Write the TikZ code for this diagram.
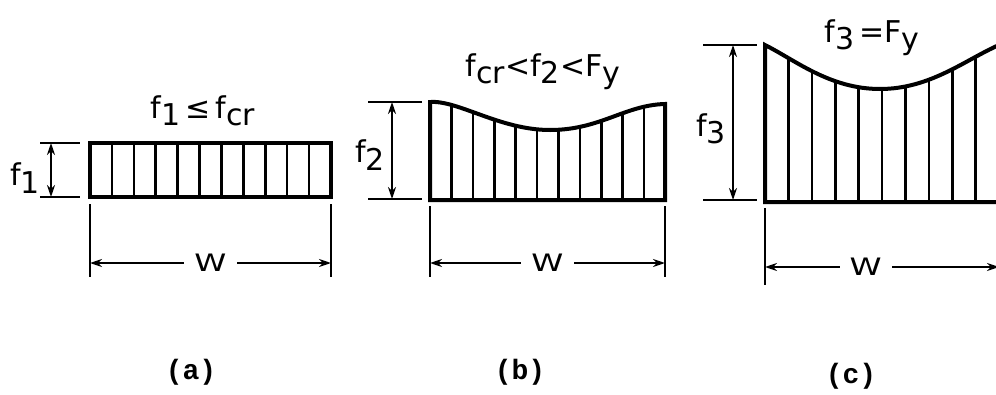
\documentclass[tikz,border=0pt]{standalone}
\usepackage{fontspec}
\setmainfont{DejaVu Sans}
\newfontfamily\capfont{Liberation Mono}
\usetikzlibrary{arrows.meta,positioning}

% lowered full-size subscript, as in the hand lettering
\newcommand{\lo}[1]{\raisebox{-0.45ex}{#1}}

\begin{document}
\begin{tikzpicture}[
    x=1pt, y=-1pt,
    box/.style={line width=4pt},
    bar/.style={line width=2.6pt},
    dim/.style={line width=2.8pt},
    arr/.style={{Stealth[length=12pt,width=8pt]}-{Stealth[length=12pt,width=8pt]}, line width=2.8pt},
    lbl/.style={font=\fontsize{30}{32}\selectfont, inner sep=1pt},
    wlbl/.style={font=\fontsize{24}{26}\selectfont, fill=white, inner ysep=1pt, inner xsep=10pt},
    caplbl/.style={font=\capfont\bfseries\fontsize{28}{30}\selectfont}
]
\clip (0,0) rectangle (996,394);

% (a) uniform stress
\coordinate (a-tl) at (90,143);
\coordinate (a-br) at (331,197);
\foreach \i in {1,...,10}
    \draw[bar] (90+\i*21.9,143) -- (90+\i*21.9,197);
\draw[box] (a-tl) rectangle (a-br);

\coordinate (a-up) at (51,143);
\coordinate (a-dn) at (51,197);
\draw[dim] (40,143) -- (80,143);
\draw[dim] (40,197) -- (80,197);
\draw[arr] (a-up) -- (a-dn);
\node[lbl] (a-f) at (25,178) {f\lo{1}};
\node[lbl] (a-t) at (203,111) {f\lo{1}\,≤\,f\lo{cr}};

\coordinate (a-wl) at (90,263);
\coordinate (a-wr) at (331,263);
\draw[dim] (90,204) -- (90,277);
\draw[dim] (331,204) -- (331,277);
\draw[arr] (a-wl) -- node[wlbl] (a-w) {\scalebox{1.35}[1]{W}} (a-wr);
\node[caplbl] (a-cap) at (191,372) {(a)};

% (b) stress between f_cr and F_y
\begin{scope}
\clip (430,200) -- (430,102) .. controls (458,100) and (500,130) .. (550,130)
    .. controls (600,130) and (625,105) .. (665,104) -- (665,200) -- cycle;
\foreach \i in {1,...,10}
    \draw[bar] (430+\i*21.4,90) -- (430+\i*21.4,205);
\end{scope}
\draw[box] (430,200) -- (430,102) .. controls (458,100) and (500,130) .. (550,130)
    .. controls (600,130) and (625,105) .. (665,104) -- (665,200) -- cycle;

\coordinate (b-up) at (392,102);
\coordinate (b-dn) at (392,199);
\draw[dim] (368,102) -- (422,102);
\draw[dim] (368,199) -- (422,199);
\draw[arr] (b-up) -- (b-dn);
\node[lbl] (b-f) at (370,155) {f\lo{2}};
\node[lbl] (b-t) at (543,72) {f\lo{cr}<f\lo{2}<F\lo{y}};

\coordinate (b-wl) at (430,263);
\coordinate (b-wr) at (665,263);
\draw[dim] (430,206) -- (430,277);
\draw[dim] (665,206) -- (665,277);
\draw[arr] (b-wl) -- node[wlbl] (b-w) {\scalebox{1.35}[1]{W}} (b-wr);
\node[caplbl] (b-cap) at (520,372) {(b)};

% (c) stress at yield
\begin{scope}
\clip (765,202) -- (765,45) .. controls (795,60) and (830,89) .. (880,89)
    .. controls (930,89) and (965,60) .. (999,45) -- (999,202) -- cycle;
\foreach \i in {1,...,9}
    \draw[bar] (765+\i*23.4,30) -- (765+\i*23.4,210);
\end{scope}
\draw[box] (765,202) -- (765,45) .. controls (795,60) and (830,89) .. (880,89)
    .. controls (930,89) and (965,60) .. (999,45) -- (999,202) -- cycle;

\coordinate (c-up) at (733,45);
\coordinate (c-dn) at (733,200);
\draw[dim] (703,45) -- (757,45);
\draw[dim] (703,200) -- (757,200);
\draw[arr] (c-up) -- (c-dn);
\node[lbl] (c-f) at (711,129) {f\lo{3}};
\node[lbl] (c-t) at (872,38) {f\lo{3}\,=F\lo{y}};

\coordinate (c-wl) at (765,267);
\coordinate (c-wr) at (999,267);
\draw[dim] (765,208) -- (765,285);
\draw[dim] (999,208) -- (999,285);
\draw[arr] (c-wl) -- node[wlbl, pos=0.43] (c-w) {\scalebox{1.35}[1]{W}} (c-wr);
\node[caplbl] (c-cap) at (851,376) {(c)};

\end{tikzpicture}
\end{document}
